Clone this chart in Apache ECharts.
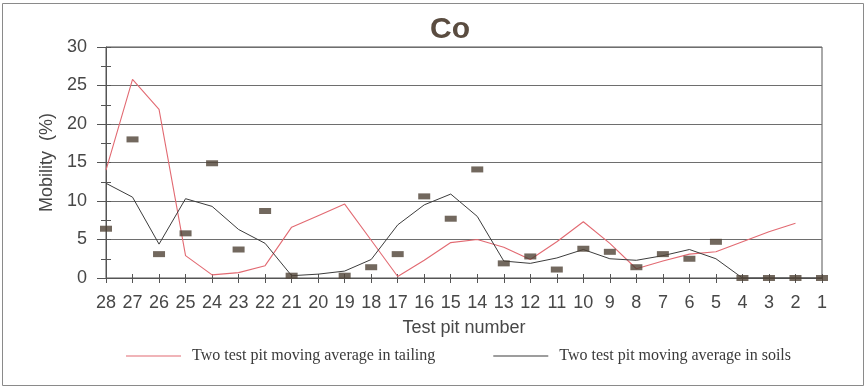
<!DOCTYPE html>
<html>
<head>
<meta charset="utf-8">
<title>Co mobility</title>
<script src="https://cdn.jsdelivr.net/npm/echarts@6/dist/echarts.min.js"></script>
<style>
  html, body { margin: 0; padding: 0; background: #ffffff; }
  #chart { width: 866px; height: 388px; }
</style>
</head>
<body>
<div id="chart"></div>
<script>
// Test pits, listed in the order they are drawn along the x axis
const pits = ['28','27','26','25','24','23','22','21','20','19','18','17','16','15',
              '14','13','12','11','10','9','8','7','6','5','4','3','2','1'];

// Two test pit moving average in tailing (%)
const tailingAvg = [14.0, 25.8, 21.9, 2.9, 0.4, 0.7, 1.6, 6.6, 8.1, 9.6, 4.9, 0.2, 2.3, 4.6,
                    5.0, 4.0, 2.4, 4.7, 7.3, 4.5, 1.2, 2.2, 3.1, 3.4, 4.7, 6.0, 7.1, null];

// Two test pit moving average in soils (%)
const soilsAvg = [12.3, 10.5, 4.4, 10.3, 9.3, 6.3, 4.5, 0.3, 0.5, 0.9, 2.4, 6.9, 9.5, 10.9,
                  8.0, 2.2, 1.9, 2.6, 3.7, 2.5, 2.3, 2.9, 3.7, 2.5, 0.0, 0.0, 0.0, 0.0];

// Individual test pit mobility values (%)
const pitValues = [6.4, 18.0, 3.1, 5.8, 14.9, 3.7, 8.7, 0.3, null, 0.3, 1.4, 3.1, 10.6, 7.7,
                   14.1, 1.9, 2.8, 1.1, 3.8, 3.4, 1.4, 3.1, 2.5, 4.7, 0.0, 0.0, 0.0, 0.0];

// Value axis ticks
const yMin = 0, yMax = 30, yStep = 5;

const textColor = '#474747';
const axisColor = '#555555';
const sans = '"Liberation Sans", Arial, sans-serif';
const serif = '"Liberation Serif", "Times New Roman", serif';

const chart = echarts.init(document.getElementById('chart'), null, { renderer: 'canvas' });

const catAxisBase = {
  type: 'category',
  data: pits,
  boundaryGap: false,
  gridIndex: 0
};

const valAxisBase = {
  type: 'value',
  min: yMin,
  max: yMax,
  interval: yStep,
  gridIndex: 0
};

chart.setOption({
  backgroundColor: '#ffffff',
  animation: false,
  title: {
    text: 'Co',
    left: 445,
    top: 10,
    textAlign: 'center',
    textStyle: {
      fontFamily: sans,
      fontSize: 30,
      fontWeight: 'bold',
      color: '#5a4c40'
    }
  },
  grid: {
    left: 106,
    right: 44,
    top: 47,
    bottom: 110,
    show: true,
    borderColor: '#555555',
    borderWidth: 1,
    backgroundColor: 'transparent'
  },
  legend: {
    bottom: 19,
    left: 121,
    itemGap: 58,
    itemWidth: 55,
    itemHeight: 10,
    icon: 'path://M0,5 L55,5 L55,6 L0,6 Z',
    data: ['Two test pit moving average in tailing', 'Two test pit moving average in soils'],
    textStyle: {
      fontFamily: serif,
      fontSize: 16,
      color: '#3a3a3a',
      padding: [0, 0, 0, 6]
    }
  },
  xAxis: [
    Object.assign({}, catAxisBase, {
      name: 'Test pit number',
      nameLocation: 'middle',
      nameGap: 41,
      nameTextStyle: {
        fontFamily: sans,
        fontSize: 18,
        color: textColor
      },
      axisLine: { lineStyle: { color: axisColor, width: 1 } },
      axisTick: { show: true, inside: false, length: 5, alignWithLabel: true,
                  lineStyle: { color: axisColor } },
      axisLabel: {
        margin: 16,
        interval: 0,
        fontFamily: sans,
        fontSize: 18,
        color: textColor
      },
      splitLine: { show: false }
    }),
    // inner half of the crossing tick marks
    Object.assign({}, catAxisBase, {
      position: 'bottom',
      axisLine: { show: false },
      axisTick: { show: true, inside: true, length: 4, lineStyle: { color: axisColor } },
      axisLabel: { show: false },
      splitLine: { show: false }
    })
  ],
  yAxis: [
    Object.assign({}, valAxisBase, {
      name: 'Mobility  (%)',
      nameLocation: 'middle',
      nameGap: 47,
      nameRotate: 90,
      nameTextStyle: {
        fontFamily: sans,
        fontSize: 18,
        color: textColor
      },
      axisLine: { show: true, lineStyle: { color: axisColor, width: 1 } },
      axisTick: { show: true, inside: false, length: 9, lineStyle: { color: axisColor } },
      minorTick: { show: true, splitNumber: 2, length: 5, lineStyle: { color: axisColor } },
      axisLabel: {
        margin: 19,
        fontFamily: sans,
        fontSize: 18,
        color: textColor
      },
      splitLine: { show: true, lineStyle: { color: '#6e6e6e', width: 1 } }
    }),
    // inner half of the crossing tick marks
    Object.assign({}, valAxisBase, {
      position: 'left',
      axisLine: { show: false },
      axisTick: { show: true, inside: true, length: 5, lineStyle: { color: axisColor } },
      minorTick: { show: true, splitNumber: 2, length: 5, lineStyle: { color: axisColor } },
      axisLabel: { show: false },
      splitLine: { show: false }
    })
  ],
  series: [
    {
      name: 'Two test pit moving average in tailing',
      type: 'line',
      data: tailingAvg,
      symbol: 'none',
      connectNulls: false,
      lineStyle: { color: '#e26a72', width: 1.1 },
      itemStyle: { color: '#e26a72' },
      z: 3
    },
    {
      name: 'Two test pit moving average in soils',
      type: 'line',
      data: soilsAvg,
      symbol: 'none',
      lineStyle: { color: '#3c3c3c', width: 1 },
      itemStyle: { color: '#3c3c3c' },
      z: 4
    },
    {
      name: 'Test pit values',
      type: 'scatter',
      data: pitValues,
      symbol: 'rect',
      symbolSize: [12, 6],
      itemStyle: { color: '#4f4236' },
      z: 5
    }
  ],
  graphic: [
    {
      type: 'rect',
      shape: { x: 2.5, y: 3.5, width: 861, height: 382 },
      style: { fill: 'none', stroke: '#8a8a8a', lineWidth: 1 },
      silent: true,
      z: 0
    }
  ]
});
</script>
</body>
</html>
